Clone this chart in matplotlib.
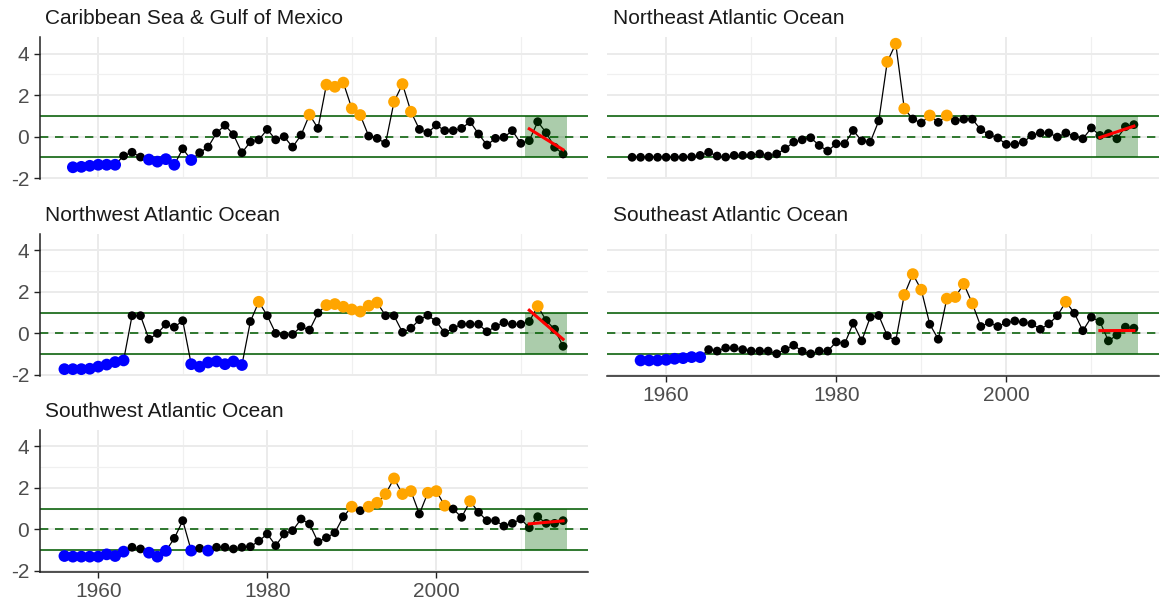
import numpy as np
import matplotlib
matplotlib.use("Agg")
import matplotlib.pyplot as plt

plt.rcParams['font.family'] = ['Liberation Sans', 'DejaVu Sans']
plt.rcParams['axes.unicode_minus'] = False

# --- data ---
car_years = list(range(1957, 2016))
car_vals = [-1.47, -1.45, -1.40, -1.35, -1.35, -1.35, -0.92, -0.75, -0.98, -1.10,
            -1.20, -1.08, -1.35, -0.58, -1.12, -0.77, -0.50, 0.18, 0.55, 0.10,
            -0.77, -0.25, -0.15, 0.35, -0.15, 0.00, -0.50, 0.08, 1.06, 0.40,
            2.50, 2.40, 2.60, 1.36, 1.04, 0.03, -0.08, -0.32, 1.68, 2.53,
            1.20, 0.35, 0.19, 0.56, 0.29, 0.29, 0.40, 0.72, 0.13, -0.40,
            -0.08, -0.03, 0.29, -0.32, -0.19, 0.72, 0.19, -0.51, -0.83]

ne_years = list(range(1956, 2016))
ne_vals = [-0.99, -0.99, -0.99, -0.99, -0.99, -0.99, -0.99, -0.97, -0.90, -0.75,
           -0.93, -0.98, -0.90, -0.90, -0.90, -0.83, -0.93, -0.83, -0.58, -0.26,
           -0.15, -0.05, -0.42, -0.69, -0.34, -0.34, 0.30, -0.20, -0.26, 0.76,
           3.60, 4.47, 1.35, 0.85, 0.66, 1.02, 0.69, 1.02, 0.76, 0.84,
           0.84, 0.34, 0.10, -0.06, -0.37, -0.37, -0.26, 0.06, 0.18, 0.18,
           -0.02, 0.18, 0.02, -0.10, 0.42, 0.06, 0.15, -0.10, 0.48, 0.58]

nw_years = list(range(1956, 2016))
nw_vals = [-1.72, -1.72, -1.72, -1.70, -1.60, -1.50, -1.38, -1.30, 0.85, 0.85,
           -0.28, 0.00, 0.44, 0.30, 0.61, -1.48, -1.60, -1.40, -1.35, -1.48,
           -1.35, -1.52, 0.57, 1.52, 0.85, 0.00, -0.08, -0.05, 0.33, 0.16,
           0.98, 1.36, 1.41, 1.28, 1.15, 1.05, 1.33, 1.48, 0.85, 0.85,
           0.05, 0.25, 0.66, 0.87, 0.57, 0.03, 0.25, 0.44, 0.44, 0.44,
           0.08, 0.33, 0.52, 0.44, 0.44, 0.57, 1.31, 0.62, 0.20, -0.62]

se_years = list(range(1957, 2016))
se_vals = [-1.30, -1.30, -1.30, -1.27, -1.22, -1.19, -1.14, -1.14, -0.78, -0.85,
           -0.70, -0.70, -0.78, -0.85, -0.85, -0.85, -0.98, -0.77, -0.57, -0.86,
           -0.98, -0.85, -0.85, -0.41, -0.49, 0.49, -0.36, 0.78, 0.86, -0.11,
           -0.36, 1.85, 2.85, 2.10, 0.44, -0.28, 1.67, 1.75, 2.38, 1.44,
           0.33, 0.52, 0.33, 0.52, 0.60, 0.54, 0.46, 0.20, 0.46, 0.85,
           1.52, 0.97, 0.13, 0.78, 0.57, -0.36, -0.08, 0.30, 0.25]

sw_years = list(range(1956, 2016))
sw_vals = [-1.28, -1.31, -1.31, -1.31, -1.31, -1.20, -1.28, -1.07, -0.86, -0.94,
           -1.12, -1.31, -1.03, -0.43, 0.42, -1.02, -0.91, -1.02, -0.86, -0.86,
           -0.94, -0.86, -0.83, -0.56, -0.22, -0.78, -0.22, -0.06, 0.50, 0.26,
           -0.60, -0.40, -0.16, 0.61, 1.09, 0.90, 1.09, 1.28, 1.70, 2.45,
           1.70, 1.84, 0.74, 1.76, 1.84, 1.14, 0.98, 0.58, 1.36, 0.82,
           0.42, 0.42, 0.16, 0.29, 0.50, 0.08, 0.61, 0.29, 0.29, 0.42]

regions = ["Caribbean Sea & Gulf of Mexico", "Northeast Atlantic Ocean",
           "Northwest Atlantic Ocean", "Southeast Atlantic Ocean",
           "Southwest Atlantic Ocean"]
series = [(car_years, car_vals), (ne_years, ne_vals), (nw_years, nw_vals),
          (se_years, se_vals), (sw_years, sw_vals)]

# shared scales like ggplot (5% expansion)
all_x = np.concatenate([s[0] for s in series])
all_y = np.concatenate([s[1] for s in series])
xr = all_x.max() - all_x.min()
yr = all_y.max() - all_y.min()
xlim = (all_x.min() - 0.05 * xr, all_x.max() + 0.05 * xr)
ylim = (all_y.min() - 0.05 * yr, all_y.max() + 0.05 * yr)

W, H = 1160, 608
fig = plt.figure(figsize=(W / 100, H / 100), dpi=100)

cols = [(39.5, 548.5), (607, 552)]
rows = [37.3, 234.0, 430.0]
ph = 141.6

green = '#0f640f'
txt = 15

for i, (name, (yrs, vals)) in enumerate(zip(regions, series)):
    r, c = divmod(i, 2)
    x0, w = cols[c]
    top = rows[r]
    ax = fig.add_axes([x0 / W, 1 - (top + ph) / H, w / W, ph / H])
    yrs = np.array(yrs)
    vals = np.array(vals)

    ax.set_xlim(xlim)
    ax.set_ylim(ylim)
    ax.set_xticks([1960, 1980, 2000])
    ax.set_xticks([1970, 1990, 2010], minor=True)
    ax.set_yticks([-2, 0, 2, 4])
    ax.set_yticks([-1, 1, 3], minor=True)
    ax.grid(which='major', color='#EBEBEB', lw=1.4)
    ax.grid(which='minor', color='#F0F0F0', lw=0.9)
    ax.set_axisbelow(True)

    for s in ax.spines.values():
        s.set_visible(False)

    ax.axhline(1, color=green, lw=1.2, zorder=1.5)
    ax.axhline(-1, color=green, lw=1.2, zorder=1.5)
    ax.axhline(0, color=green, lw=1.2, ls=(0, (5, 4)), zorder=1.5)

    ax.plot(yrs, vals, color='black', lw=0.9, zorder=2)
    cols_pt = np.where(vals > 1, 'orange', np.where(vals < -1, 'blue', 'black'))
    sizes = np.where(cols_pt == 'black', 40, 72)
    ax.scatter(yrs, vals, c=cols_pt, s=sizes, zorder=3, linewidths=0)

    ax.axvspan(2010.5, 2015.5, ymin=(-1 - ylim[0]) / (ylim[1] - ylim[0]),
               ymax=(1 - ylim[0]) / (ylim[1] - ylim[0]),
               color='darkgreen', alpha=0.33, lw=0, zorder=4)
    last = yrs >= 2011
    k, b = np.polyfit(yrs[last], vals[last], 1)
    xs = np.array([2011, 2015])
    ax.plot(xs, k * xs + b, color='red', lw=2.2, zorder=5)

    ax.tick_params(which='both', length=0, labelbottom=False, labelleft=False)
    if c == 0:
        ax.spines['left'].set_visible(True)
        ax.spines['left'].set_color('#222222')
        ax.spines['left'].set_linewidth(1.1)
        ax.tick_params(axis='y', which='major', length=4.5, width=1.0,
                       color='#222222', labelleft=True, labelsize=txt,
                       labelcolor='#4D4D4D', pad=3)
        ax.set_yticklabels(['-2', '0', '2', '4'])
    if i >= 3:
        ax.spines['bottom'].set_visible(True)
        ax.spines['bottom'].set_color('#222222')
        ax.spines['bottom'].set_linewidth(1.1)
        ax.tick_params(axis='x', which='major', length=4.5, width=1.0,
                       color='#222222', labelbottom=True, labelsize=txt,
                       labelcolor='#4D4D4D', pad=3)

    ax.annotate(name, xy=(0, 1), xycoords='axes fraction', xytext=(4, 13.5),
                textcoords='offset points', ha='left', va='center',
                fontsize=txt, color='#1A1A1A')

fig.savefig('out.png', dpi=100)
